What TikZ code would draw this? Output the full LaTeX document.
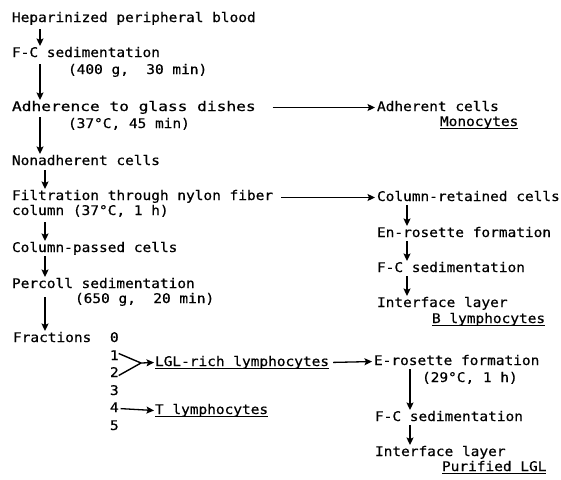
\documentclass[tikz,border=0pt]{standalone}
\usepackage{fontspec}
\usepackage{graphicx}
\newfontfamily\twfont[FakeStretch=1.087,FakeBold=0.6]{DejaVu Sans Mono}
\usetikzlibrary{arrows.meta}
\begin{document}
\begin{tikzpicture}[x=1pt,y=-1pt,
  txt/.style={anchor=base west, inner xsep=0pt, inner ysep=1pt, outer sep=0pt,
    text height=10pt, text depth=3pt, font=\twfont\fontsize{13.3}{15}\selectfont},
  arr/.style={-{Stealth[length=7.5pt,width=7pt,inset=1.5pt]}, line width=1.5pt},
  harr/.style={-{Stealth[length=7.5pt,width=7pt,inset=1.5pt]}, line width=1.3pt},
  frline/.style={line width=1.4pt},
  uline/.style={line width=1.2pt}]
\useasboundingbox[fill=white] (0,0) rectangle (561,479);
% left column
\node[txt] (hep) at (12,22) {Heparinized peripheral blood};
\node[txt] (fc1) at (12,57) {F-C sedimentation};
\node[txt] (fc1p) at (68,74) {(400 g,~~30 min)};
\node[txt] (adh) at (12,111) {\scalebox{1.12}[1]{Adherence to glass dishes}};
\node[txt] (adhp) at (68,128) {(37°C, 45 min)};
\node[txt] (non) at (12,165) {Nonadherent cells};
\node[txt] (filt) at (12,200) {Filtration through nylon fiber};
\node[txt] (filtp) at (12,215) {column (37°C, 1 h)};
\node[txt] (cpass) at (12,252) {Column-passed cells};
\node[txt] (perc) at (12,288) {Percoll sedimentation};
\node[txt] (percp) at (75,303) {(650 g,~~20 min)};
\node[txt] (frac) at (13,342) {Fractions};
\node[txt] (f0) at (110,342) {0};
\node[txt] (f1) at (110,360) {1};
\node[txt] (f2) at (110,377) {2};
\node[txt] (f3) at (110,395) {3};
\node[txt] (f4) at (110,412) {4};
\node[txt] (f5) at (110,430) {5};
\node[txt] (lgl) at (155,366) {LGL-rich lymphocytes};
\node[txt] (tly) at (155,414) {T lymphocytes};
% right column
\node[txt] (adhc) at (377,111) {Adherent cells};
\node[txt] (mono) at (440,126) {Monocytes};
\node[txt] (cret) at (377,201) {Column-retained cells};
\node[txt] (enro) at (377,237) {En-rosette formation};
\node[txt] (fc2) at (377,272) {F-C sedimentation};
\node[txt] (intf1) at (377,307) {Interface layer};
\node[txt] (blym) at (432,323) {B lymphocytes};
\node[txt] (erose) at (374,365) {E-rosette formation};
\node[txt] (erosep) at (422,382) {(29°C, 1 h)};
\node[txt] (fc3) at (375,421) {F-C sedimentation};
\node[txt] (intf2) at (375,456) {Interface layer};
\node[txt] (plgl) at (442,471) {Purified LGL};
% underlines
\foreach \n in {mono,blym,lgl,tly,plgl}
  \draw[uline] ([yshift=-2.5pt]\n.base west) -- ([yshift=-2.5pt]\n.base east);
% axis coordinates
\coordinate (ax1) at (40,0);
\coordinate (ax2) at (45,0);
\coordinate (bx1) at (407,0);
\coordinate (bx2) at (410,0);
\coordinate (jn) at (141,363);
% vertical arrows, left
\draw[arr, shorten <=3pt] (hep.south -| ax1) -- (fc1.north -| ax1);
\draw[arr, shorten <=3pt] (fc1.south -| ax1) -- (adh.north -| ax1);
\draw[arr, shorten <=2pt] (adh.south -| ax1) -- (non.north -| ax1);
\draw[arr, shorten <=1pt] (non.south -| ax2) -- (filt.north -| ax2);
\draw[arr, shorten <=3pt] (filtp.south -| ax2) -- (cpass.north -| ax2);
\draw[arr] (cpass.south -| ax2) -- (perc.north -| ax2);
\draw[arr, shorten <=5pt] (perc.south -| ax2) -- (frac.north -| ax2);
% vertical arrows, right
\draw[arr] (cret.south -| bx1) -- (enro.north -| bx1);
\draw[arr] (enro.south -| bx1) -- (fc2.north -| bx1);
\draw[arr] (fc2.south -| bx1) -- (intf1.north -| bx1);
\draw[arr] (erose.south -| bx2) -- (fc3.north -| bx2);
\draw[arr] (fc3.south -| bx2) -- (intf2.north -| bx2);
% horizontal arrows
\draw[harr, shorten <=17pt, shorten >=2pt] (adh.east) -- (adhc.west);
\draw[harr, shorten <=8pt, shorten >=2pt] (filt.east |- cret.west) -- (cret.west);
\draw[harr, shorten <=4pt, shorten >=2pt] (lgl.east) -- (erose.west);
% fractions
\draw[frline] ([yshift=3pt]f1.east) -- (jn);
\draw[frline] ([yshift=-2pt]f2.east) -- (jn);
\draw[harr] (jn) -- ([xshift=-1pt]lgl.west);
\draw[harr, shorten <=2pt] (f4.east) -- ([xshift=-1pt]tly.west);
\end{tikzpicture}
\end{document}
